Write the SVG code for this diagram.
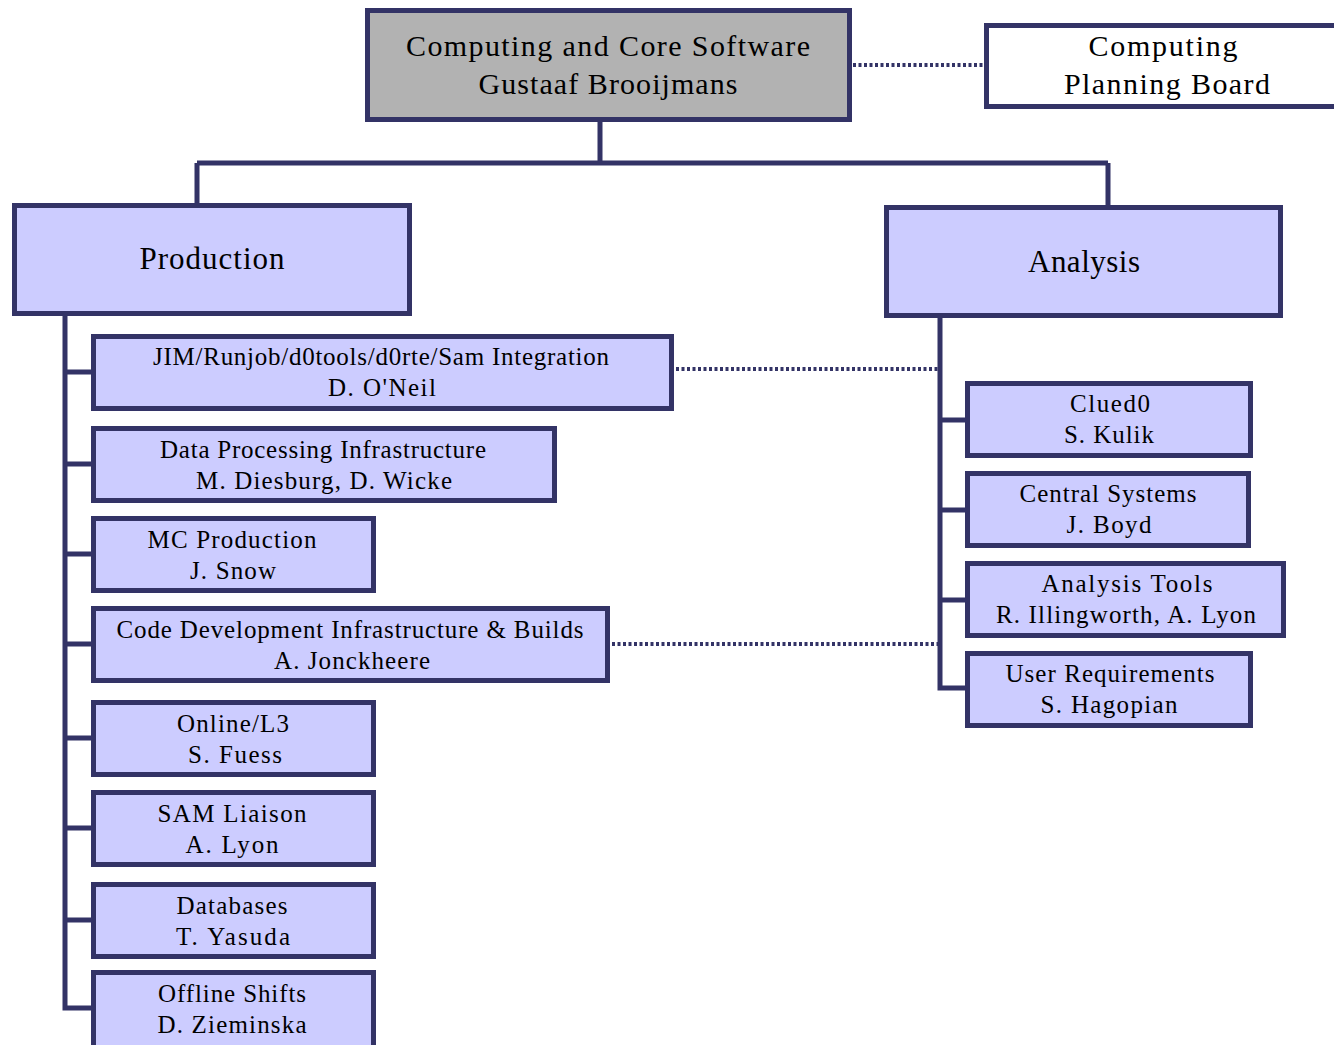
<svg xmlns="http://www.w3.org/2000/svg" width="1334" height="1045" viewBox="0 0 1334 1045">
<style>
.box{fill:#CCCCFF;stroke:#333366;stroke-width:5}
.top{fill:#B2B2B2;stroke:#333366;stroke-width:5}
.wb{fill:#FFFFFF;stroke:#333366;stroke-width:5}
.ln{fill:none;stroke:#333366;stroke-width:5}
.dot{fill:none;stroke:#333366;stroke-width:4;stroke-dasharray:3 2.5}
text{font-family:"Liberation Serif","Times New Roman",serif;fill:#000;text-anchor:middle}
.t1{font-size:30px}
.t2{font-size:31px}
.t3{font-size:25px}
</style>
<rect width="1334" height="1045" fill="#FFFFFF"/>
<g id="connectors">
<path class="ln" d="M600,120 V163 M197,163 H1108 M197,163 V205 M1108,163 V207"/>
<path class="ln" d="M65,314 V1008 H94 M65,372 H94 M65,464 H94 M65,554 H94 M65,644 H94 M65,738 H94 M65,828 H94 M65,920 H94"/>
<path class="ln" d="M940,316 V688 H968 M940,420 H968 M940,510 H968 M940,600 H968"/>
<path class="dot" d="M853,65 H984"/>
<path class="dot" d="M676,369 H938"/>
<path class="dot" d="M612,644 H938"/>
</g>
<g id="ccs">
<rect class="top" x="367.5" y="10.5" width="482" height="109"/>
<text class="t1" x="608" y="56" textLength="404" lengthAdjust="spacing">Computing and Core Software</text>
<text class="t1" x="608" y="94" textLength="259" lengthAdjust="spacing">Gustaaf Brooijmans</text>
</g>
<g id="cpb">
<rect class="wb" x="986.5" y="25.5" width="360" height="81"/>
<text class="t1" x="1163" y="56" textLength="149" lengthAdjust="spacing">Computing</text>
<text class="t1" x="1167" y="94" textLength="206" lengthAdjust="spacing">Planning Board</text>
</g>
<g id="production">
<rect class="box" x="14.5" y="205.5" width="395" height="108"/>
<text class="t2" x="212" y="269" textLength="145" lengthAdjust="spacing">Production</text>
</g>
<g id="analysis">
<rect class="box" x="886.5" y="207.5" width="394" height="108"/>
<text class="t2" x="1084" y="272" textLength="112" lengthAdjust="spacing">Analysis</text>
</g>
<g id="jim">
<rect class="box" x="93.5" y="336.5" width="578" height="72"/>
<text class="t3" x="381" y="365" textLength="456" lengthAdjust="spacing">JIM/Runjob/d0tools/d0rte/Sam Integration</text>
<text class="t3" x="382" y="396" textLength="108" lengthAdjust="spacing">D. O'Neil</text>
</g>
<g id="dpi">
<rect class="box" x="93.5" y="428.5" width="461" height="72"/>
<text class="t3" x="323" y="458" textLength="326" lengthAdjust="spacing">Data Processing Infrastructure</text>
<text class="t3" x="324" y="489" textLength="256" lengthAdjust="spacing">M. Diesburg, D. Wicke</text>
</g>
<g id="mc">
<rect class="box" x="93.5" y="518.5" width="280" height="72"/>
<text class="t3" x="232" y="548" textLength="169" lengthAdjust="spacing">MC Production</text>
<text class="t3" x="233" y="579" textLength="86" lengthAdjust="spacing">J. Snow</text>
</g>
<g id="codedev">
<rect class="box" x="93.5" y="608.5" width="514" height="72"/>
<text class="t3" x="350" y="638" textLength="467" lengthAdjust="spacing">Code Development Infrastructure &amp; Builds</text>
<text class="t3" x="352" y="669" textLength="156" lengthAdjust="spacing">A. Jonckheere</text>
</g>
<g id="online">
<rect class="box" x="93.5" y="702.5" width="280" height="72"/>
<text class="t3" x="233" y="732" textLength="112" lengthAdjust="spacing">Online/L3</text>
<text class="t3" x="235" y="763" textLength="94" lengthAdjust="spacing">S. Fuess</text>
</g>
<g id="sam">
<rect class="box" x="93.5" y="792.5" width="280" height="72"/>
<text class="t3" x="232" y="822" textLength="149" lengthAdjust="spacing">SAM Liaison</text>
<text class="t3" x="232" y="853" textLength="93" lengthAdjust="spacing">A. Lyon</text>
</g>
<g id="db">
<rect class="box" x="93.5" y="884.5" width="280" height="72"/>
<text class="t3" x="232" y="914" textLength="111" lengthAdjust="spacing">Databases</text>
<text class="t3" x="233" y="945" textLength="114" lengthAdjust="spacing">T. Yasuda</text>
</g>
<g id="offline">
<rect class="box" x="93.5" y="972.5" width="280" height="80"/>
<text class="t3" x="232" y="1002" textLength="148" lengthAdjust="spacing">Offline Shifts</text>
<text class="t3" x="232" y="1033" textLength="149" lengthAdjust="spacing">D. Zieminska</text>
</g>
<g id="clued0">
<rect class="box" x="967.5" y="383.5" width="283" height="72"/>
<text class="t3" x="1110" y="412" textLength="80" lengthAdjust="spacing">Clued0</text>
<text class="t3" x="1109" y="443" textLength="90" lengthAdjust="spacing">S. Kulik</text>
</g>
<g id="central">
<rect class="box" x="967.5" y="473.5" width="281" height="72"/>
<text class="t3" x="1108" y="502" textLength="177" lengthAdjust="spacing">Central Systems</text>
<text class="t3" x="1109" y="533" textLength="85" lengthAdjust="spacing">J. Boyd</text>
</g>
<g id="tools">
<rect class="box" x="967.5" y="563.5" width="316" height="72"/>
<text class="t3" x="1127" y="592" textLength="171" lengthAdjust="spacing">Analysis  Tools</text>
<text class="t3" x="1126" y="623" textLength="260" lengthAdjust="spacing">R. Illingworth, A. Lyon</text>
</g>
<g id="userreq">
<rect class="box" x="967.5" y="653.5" width="283" height="72"/>
<text class="t3" x="1110" y="682" textLength="209" lengthAdjust="spacing">User Requirements</text>
<text class="t3" x="1109" y="713" textLength="137" lengthAdjust="spacing">S. Hagopian</text>
</g>
</svg>
